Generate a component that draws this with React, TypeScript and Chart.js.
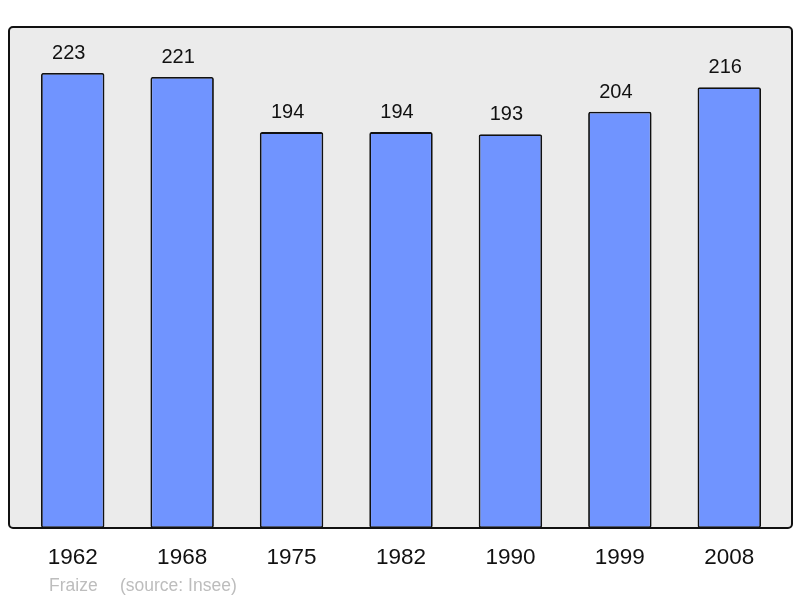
import React, { useEffect, useRef } from 'react';
import Chart from 'chart.js/auto';

// population by census year
const years = ['1962', '1968', '1975', '1982', '1990', '1999', '2008'];
const population = [223, 221, 194, 194, 193, 204, 216];
const townName = 'Fraize';
const sourceNote = '(source: Insee)';

const FONT = '"Liberation Sans", Arial, sans-serif';

// grey rounded frame behind the bars
const framePlugin = {
  id: 'frame',
  beforeDatasetsDraw(chart) {
    const { ctx, chartArea } = chart;
    const x = chartArea.left - 9;
    const y = chartArea.top;
    const w = chartArea.right - chartArea.left + 17;
    const h = chartArea.bottom - chartArea.top;
    ctx.save();
    ctx.beginPath();
    ctx.roundRect(x, y, w, h, 4);
    ctx.fillStyle = '#ebebeb';
    ctx.fill();
    ctx.restore();
  },
  afterDatasetsDraw(chart) {
    const { ctx, chartArea } = chart;
    const x = chartArea.left - 9;
    const y = chartArea.top;
    const w = chartArea.right - chartArea.left + 17;
    const h = chartArea.bottom - chartArea.top;
    ctx.save();
    ctx.beginPath();
    ctx.roundRect(x, y, w, h, 4);
    ctx.lineWidth = 2;
    ctx.strokeStyle = '#111';
    ctx.stroke();
    ctx.restore();
  },
};

// value labels, year labels and footer
const labelsPlugin = {
  id: 'labels',
  afterDraw(chart) {
    const { ctx } = chart;
    const meta = chart.getDatasetMeta(0);
    const xScale = chart.scales.x;
    ctx.save();
    ctx.fillStyle = '#111';
    ctx.textAlign = 'center';
    ctx.textBaseline = 'alphabetic';
    ctx.font = `20px ${FONT}`;
    meta.data.forEach((bar, i) => {
      ctx.fillText(String(population[i]), bar.x - 4, bar.y - 14);
    });
    ctx.font = `22.5px ${FONT}`;
    years.forEach((yr, i) => {
      ctx.fillText(yr, xScale.getPixelForValue(i), 564);
    });
    ctx.fillStyle = '#bdbdbd';
    ctx.textAlign = 'left';
    ctx.font = `17.5px ${FONT}`;
    ctx.fillText(townName, 49, 591);
    ctx.fillText(sourceNote, 120, 591);
    ctx.restore();
  },
};

export default function App() {
  const chartRef = useRef(null);
  const chartInstance = useRef(null);

  useEffect(() => {
    if (!chartRef.current) return;
    if (chartInstance.current) chartInstance.current.destroy();

    chartInstance.current = new Chart(chartRef.current, {
      type: 'bar',
      data: {
        labels: years,
        datasets: [
          {
            data: population,
            backgroundColor: '#7094ff',
            borderColor: '#111',
            borderWidth: 1.8,
            borderRadius: 2,
            borderSkipped: false,
            categoryPercentage: 1,
            barPercentage: 0.58,
          },
        ],
      },
      options: {
        animation: false,
        responsive: false,
        devicePixelRatio: 1,
        layout: { padding: { left: 18, right: 16, top: 27, bottom: 70 } },
        plugins: { legend: { display: false }, tooltip: { enabled: false } },
        scales: {
          x: { display: false },
          y: { display: false, min: 0, max: 245.5 },
        },
      },
      plugins: [framePlugin, labelsPlugin],
    });

    return () => {
      if (chartInstance.current) {
        chartInstance.current.destroy();
        chartInstance.current = null;
      }
    };
  }, []);

  return (
    <div style={{ position: 'fixed', left: 0, top: 0, width: 800, height: 598, background: '#fff' }}>
      <canvas ref={chartRef} width={800} height={598}></canvas>
    </div>
  );
}
